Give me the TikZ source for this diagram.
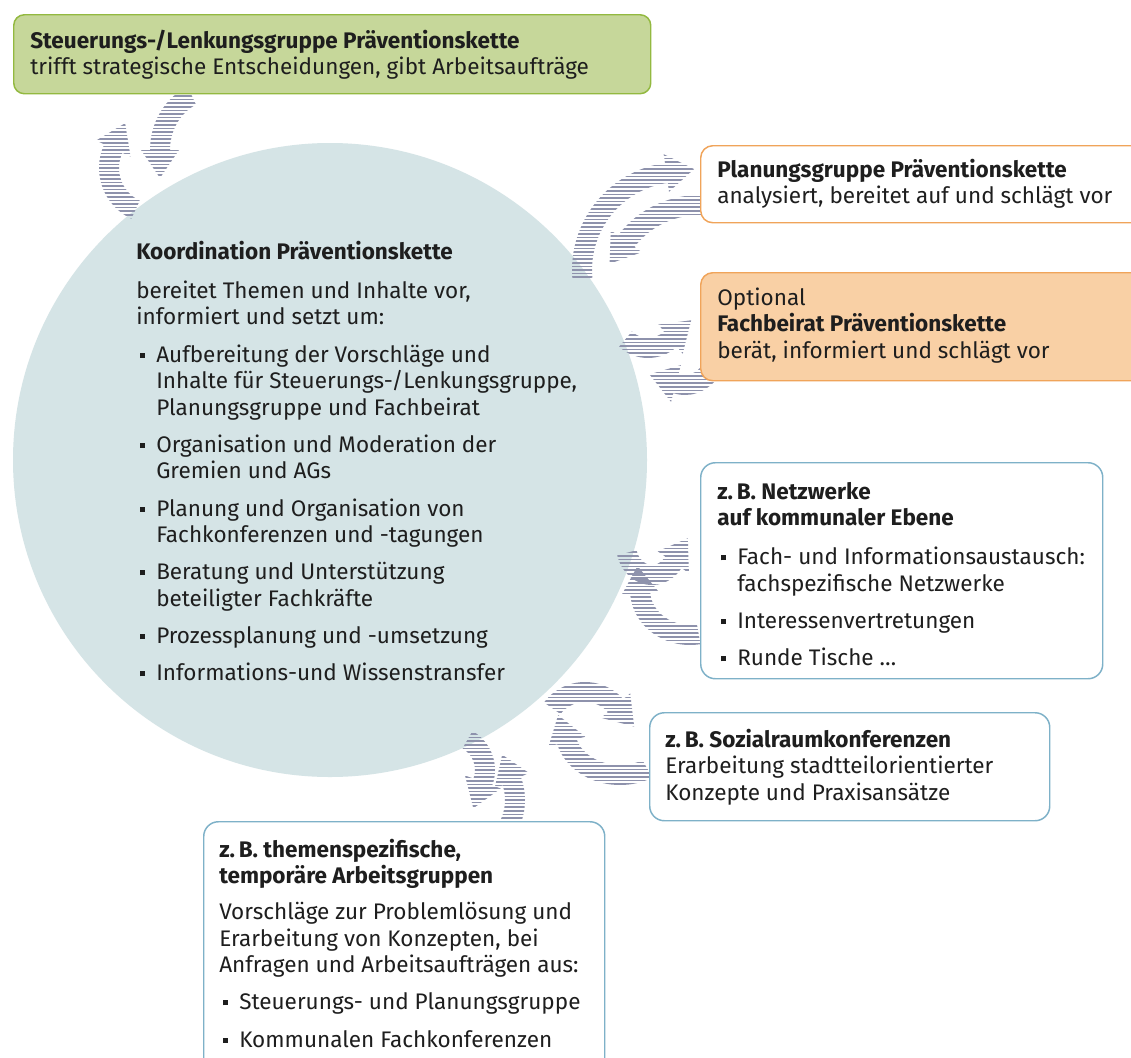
\documentclass[tikz,border=0pt]{standalone}
\usepackage{fontspec}
\setmainfont{Fira Sans}
\usetikzlibrary{calc}
\definecolor{ink}{HTML}{1E1E1E}
\definecolor{gfill}{HTML}{C6D79A}
\definecolor{gline}{HTML}{93B940}
\definecolor{circfill}{HTML}{D5E4E6}
\definecolor{oline}{HTML}{F0A45A}
\definecolor{ofill}{HTML}{F9D0A5}
\definecolor{bline}{HTML}{7EB1C8}
\definecolor{stripecol}{HTML}{8E92AC}
\newcommand{\St}{\rule{0pt}{16pt}}
\newcommand{\BulA}{\makebox[15pt][l]{\hspace{2.5pt}\raisebox{0.2em}{\rule{3.8pt}{3.8pt}}}}
\newcommand{\IndA}{\hspace*{15pt}}
% curved striped arrow: cx cy rx ry a1 a2 (a2>a1: clockwise on screen)
\newcommand{\carrow}[6]{%
  \ifdim #6pt>#5pt \def\arS{1}\else\def\arS{-1}\fi
  \pgfmathsetmacro{\arTx}{-1*\arS*(#3)*sin(#6)}%
  \pgfmathsetmacro{\arTy}{\arS*(#4)*cos(#6)}%
  \pgfmathsetmacro{\arTn}{sqrt((\arTx)*(\arTx)+(\arTy)*(\arTy))}%
  \pgfmathsetmacro{\arPx}{(#3)*cos(#6)+28*(\arTx)/(\arTn)}%
  \pgfmathsetmacro{\arPy}{(#4)*sin(#6)+28*(\arTy)/(\arTn)}%
  \pgfmathsetmacro{\arRxo}{#3+10}\pgfmathsetmacro{\arRyo}{#4+10}%
  \pgfmathsetmacro{\arRxi}{#3-10}\pgfmathsetmacro{\arRyi}{#4-10}%
  \pgfmathsetmacro{\arAx}{(\arRxo)*cos(#5)}\pgfmathsetmacro{\arAy}{(\arRyo)*sin(#5)}%
  \pgfmathsetmacro{\arBx}{(#3+19)*cos(#6)}\pgfmathsetmacro{\arBy}{(#4+19)*sin(#6)}%
  \pgfmathsetmacro{\arCx}{(#3-19)*cos(#6)}\pgfmathsetmacro{\arCy}{(#4-19)*sin(#6)}%
  \pgfmathsetmacro{\arDx}{(\arRxi)*cos(#6)}\pgfmathsetmacro{\arDy}{(\arRyi)*sin(#6)}%
  \begin{scope}[shift={(#1,#2)}]
    \clip (\arAx,\arAy)
      arc[start angle=#5, end angle=#6, x radius=\arRxo, y radius=\arRyo]
      -- (\arBx,\arBy) -- (\arPx,\arPy) -- (\arCx,\arCy) -- (\arDx,\arDy)
      arc[start angle=#6, end angle=#5, x radius=\arRxi, y radius=\arRyi] -- cycle;
    \foreach \k in {-38,...,38} \draw[stripe] (-150,\k*3.6) -- (150,\k*3.6);
  \end{scope}}
\begin{document}
\begin{tikzpicture}[x=0.75pt,y=-0.75pt,
  stripe/.style={draw=stripecol,line width=1.2pt},
  txt/.style={anchor=north west,inner sep=0pt,align=left,text=ink,font=\fontsize{16.9}{19.9}\selectfont},
  gbox/.style={draw=gline,fill=gfill,line width=1.1pt,rounded corners=8pt,anchor=north west,inner sep=0pt},
  obox/.style={draw=oline,line width=1.1pt,rounded corners=9pt,anchor=north west,inner sep=0pt},
  bbox/.style={draw=bline,fill=white,line width=1.1pt,rounded corners=11pt,anchor=north west,inner sep=0pt}]
\useasboundingbox (0,0) rectangle (1131,1057);
\clip (0,0) rectangle (1131,1057);
\fill[white] (0,0) rectangle (1131,1057);

% central circle
\node[circle,fill=circfill,minimum size={634*0.75pt},inner sep=0pt] (koord) at (330,460) {};

% arrows
\carrow{155}{168}{46}{46}{115}{205}
\carrow{215}{150}{55}{60}{245}{180}
\carrow{680}{270}{98}{98}{175}{262}
\carrow{700}{290}{90}{85}{280}{215}
\carrow{648}{310}{35}{38}{130}{50}
\carrow{685}{340}{35}{45}{45}{105}
\carrow{652}{545}{26}{30}{165}{35}
\carrow{690}{590}{50}{45}{80}{175}
\carrow{585}{730}{40}{38}{215}{320}
\carrow{620}{730}{55}{45}{60}{165}
\carrow{450}{770}{35}{35}{300}{380}
\carrow{480}{800}{35}{45}{40}{-25}

% boxes
\node[gbox,minimum width={637*0.75pt},minimum height={79*0.75pt}] (steu) at (13,14) {};
\node[obox,fill=white,minimum width={460*0.75pt},minimum height={77*0.75pt}] (plan) at (700,145) {};
\node[obox,fill=ofill,minimum width={460*0.75pt},minimum height={108*0.75pt}] (fach) at (700,272) {};
\node[bbox,minimum width={402*0.75pt},minimum height={216*0.75pt}] (netz) at (700,462) {};
\node[bbox,minimum width={400*0.75pt},minimum height={108*0.75pt}] (sozi) at (649,712) {};
\node[bbox,minimum width={401*0.75pt},minimum height={260*0.75pt}] (arbg) at (203,821) {};

% texts
\node[txt] (steut) at (30,26.7) {\St\textbf{Steuerungs-/Lenkungsgruppe Präventionskette}\\ trifft strategische Entscheidungen, gibt Arbeitsaufträge};
\node[txt] (plant) at (717,155.7) {\St\textbf{Planungsgruppe Präventionskette}\\ analysiert, bereitet auf und schlägt vor};
\node[txt] (facht) at (717,283.7) {\St Optional\\ \textbf{Fachbeirat Präventionskette}\\ berät, informiert und schlägt vor};
\node[txt] (netzt) at (717,477.7) {\St\textbf{z.\,B. Netzwerke}\\ \textbf{auf kommunaler Ebene}\\[9.4pt]
  \BulA Fach- und Informationsaustausch:\\ \IndA fachspezifische Netzwerke\\[8pt]
  \BulA Interessenvertretungen\\[8pt]
  \BulA Runde Tische …};
\node[txt] (sozit) at (665,725.7) {\St\textbf{z.\,B. Sozialraumkonferenzen}\\ Erarbeitung stadtteilorientierter\\ Konzepte und Praxisansätze};
\node[txt] (arbgt) at (219,835.7) {\St\textbf{z.\,B. themenspezifische,}\\ \textbf{temporäre Arbeitsgruppen}\\[7pt]
  Vorschläge zur Problemlösung und\\ Erarbeitung von Konzepten, bei\\ Anfragen und Arbeitsaufträgen aus:\\[8pt]
  \BulA Steuerungs- und Planungsgruppe\\[8pt]
  \BulA Kommunalen Fachkonferenzen};
\node[txt] (koordt) at (136,237.7) {\St\textbf{Koordination Präventionskette}\\[9.4pt]
  bereitet Themen und Inhalte vor,\\ informiert und setzt um:\\[8pt]
  \BulA Aufbereitung der Vorschläge und\\ \IndA Inhalte für Steuerungs-/Lenkungsgruppe,\\ \IndA Planungsgruppe und Fachbeirat\\[8pt]
  \BulA Organisation und Moderation der\\ \IndA Gremien und AGs\\[8pt]
  \BulA Planung und Organisation von\\ \IndA Fachkonferenzen und -tagungen\\[8pt]
  \BulA Beratung und Unterstützung\\ \IndA beteiligter Fachkräfte\\[8pt]
  \BulA Prozessplanung und -umsetzung\\[8pt]
  \BulA Informations-und Wissenstransfer};
\end{tikzpicture}
\end{document}
